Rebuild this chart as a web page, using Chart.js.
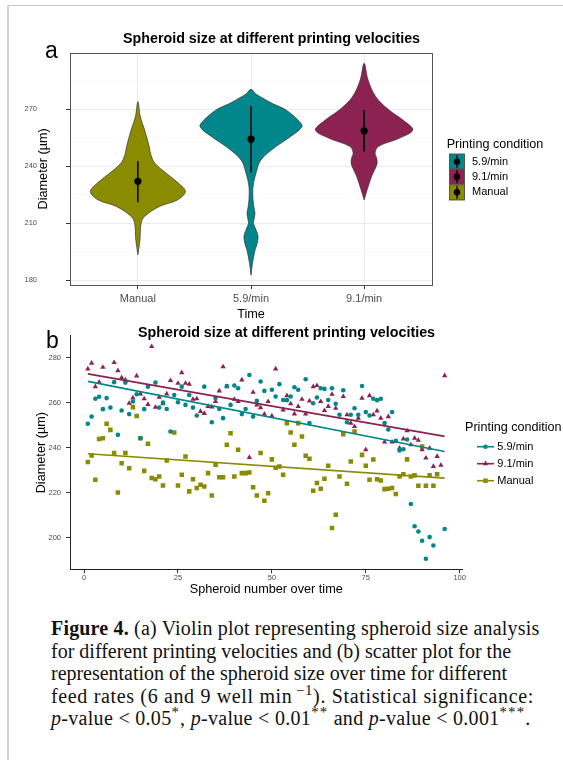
<!DOCTYPE html>
<html>
<head>
<meta charset="utf-8">
<script src="https://cdn.jsdelivr.net/npm/chart.js@4.4.1/dist/chart.umd.min.js"></script>
<style>
  html, body { margin: 0; padding: 0; background: #fff; }
  #page { position: relative; width: 563px; height: 760px; overflow: hidden; background: #fff; }
  .rule-top { position: absolute; left: 7px; top: 5px; width: 556px; height: 1px; background: #c8c8c8; }
  .rule-left { position: absolute; left: 7px; top: 5px; width: 2px; height: 755px; background: #d2d2d2; }
  canvas { position: absolute; }
  .tag { position: absolute; font-family: "Liberation Sans", Arial, sans-serif; font-size: 23px; line-height: 23px; color: #000; }
  #caption { position: absolute; left: 51px; top: 617px; font-family: "Liberation Serif", "Times New Roman", serif;
    font-size: 20px; line-height: 22.5px; color: #111; white-space: nowrap; }
  #caption .ln { display: block; }
  #caption sup { font-size: 0.74em; line-height: 0; vertical-align: 0.55em; }
  #caption sup.st { letter-spacing: 1.2px; }
</style>
</head>
<body>
<div id="page">
  <div class="rule-top"></div>
  <div class="rule-left"></div>
  <canvas id="violin" width="550" height="316" style="left:0;top:8px"></canvas>
  <canvas id="scatter" width="553" height="290" style="left:10px;top:318px"></canvas>
  <div class="tag" style="left:45px;top:39px">a</div>
  <div class="tag" style="left:46px;top:329px">b</div>
  <div id="caption">
    <span class="ln" style="letter-spacing:0.18px"><b>Figure 4.</b> (a) Violin plot representing spheroid size analysis</span>
    <span class="ln" style="letter-spacing:0px">for different printing velocities and (b) scatter plot for the</span>
    <span class="ln" style="letter-spacing:-0.02px">representation of the spheroid size over time for different</span>
    <span class="ln" style="letter-spacing:0.65px">feed rates (6 and 9 well min<sup>&#8201;&minus;1</sup>). Statistical significance:</span>
    <span class="ln" style="letter-spacing:0.3px"><i>p</i>-value &lt; 0.05<sup class="st">*</sup>, <i>p</i>-value &lt; 0.01<sup class="st">**</sup> and <i>p</i>-value &lt; 0.001<sup class="st">***</sup>.</span>
  </div>
</div>

<script>
Chart.defaults.font.family = '"Liberation Sans", Arial, Helvetica, sans-serif'
Chart.defaults.color = '#4d4d4d'

const groups = ['Manual', '5.9/min', '9.1/min']
const legendOrder = ['5.9/min', '9.1/min', 'Manual']
const colors = { 'Manual': '#8b8b00', '5.9/min': '#00868b', '9.1/min': '#8b2252' }

// panel a: violin outlines, diameter levels and half widths (category units)
const manualLevels = [193.3, 201, 210, 213.5, 218.8, 222.2, 226.6, 231, 236.3, 241.6, 246, 250.3, 259, 266, 274]
const manualWidths = [0, 0.018, 0.029, 0.059, 0.19, 0.35, 0.42, 0.36, 0.25, 0.15, 0.115, 0.10, 0.06, 0.022, 0]
const v59Levels = [182.6, 188.8, 195.6, 199, 203, 206.5, 209.9, 212, 215.2, 218, 222.2, 229.3, 236.3, 243.3, 250.3, 255.6, 260.8, 264, 269.6, 273, 275.8, 278, 280.5]
const v59Widths = [0, 0.013, 0.035, 0.053, 0.062, 0.044, 0.022, 0.027, 0.035, 0.027, 0.018, 0.018, 0.044, 0.088, 0.22, 0.35, 0.45, 0.42, 0.31, 0.19, 0.106, 0.044, 0]
const v91Levels = [222.2, 227.6, 234.6, 239, 241.6, 244.5, 246.8, 250.3, 254.7, 259, 264, 269.6, 276.6, 285.4, 294.2]
const v91Widths = [0, 0.027, 0.066, 0.10, 0.115, 0.11, 0.097, 0.124, 0.31, 0.43, 0.35, 0.22, 0.103, 0.035, 0]
const groupMeans = [232.0, 254.2, 258.6]
const groupLow = [221.0, 236.7, 247.7]
const groupHigh = [242.6, 271.7, 269.6]
const violinTicks = [180, 195, 210, 225, 240, 255, 270, 285]

// panel b: spheroid number vs diameter
const x59 = [1,2,3,4,5,6,7,8,9,10,11,12,13,14,15,16,17,19,20,21,22,23,24,25,26,27,28,29,30,32,34,35,36,37,38,39,40,41,42,43,44,45,46,47,48,50,51,52,53,54,55,56,57,59,60,61,62,63,64,65,66,67,68,69,70,71,72,73,74,75,76,77,78,79,80,81,82,83,84,85,86,87,88,89,90,91,92,93,96]
const y59 = [250.6,253.8,261.7,262.6,257.1,262.0,257.8,269.1,245.7,256.5,268.9,254.9,260.5,263.7,244.2,257.1,267.1,268.9,257.8,260.0,257.2,247.2,263.4,260.2,267.1,259.0,263.4,257.8,254.3,267.1,251.3,262.0,257.2,253.1,267.4,259.0,267.6,266.4,254.9,257.2,272.3,253.8,260.8,269.4,265.2,265.7,262.7,268.2,261.2,261.1,262.7,266.8,265.7,270.4,250.9,259.7,262.3,266.4,266.1,261.2,266.4,259.5,254.6,265.5,251.3,254.6,257.5,254.6,267.4,255.8,254.3,261.7,261.1,261.7,250.9,248.1,255.8,243.0,238.8,239.3,243.6,215.0,205.1,202.8,198.7,190.7,200.3,196.6,203.9]
const x91 = [1,2,3,4,5,8,9,10,11,12,13,14,15,16,17,18,19,20,21,22,23,25,26,27,28,29,30,31,32,33,34,35,36,37,38,40,41,42,44,45,46,47,48,49,50,51,53,54,55,56,57,58,59,60,61,62,63,64,65,66,67,69,70,71,72,73,74,75,76,77,78,79,80,81,82,84,85,86,87,88,89,90,91,92,93,94,95,96]
const y91 = [275.0,277.5,267.1,269.1,275.7,277.8,274.2,271.1,270.1,259.7,262.1,271.9,263.9,261.7,259.2,284.9,258.0,262.4,259.5,263.9,269.8,268.6,273.3,268.6,268.2,261.5,261.7,256.1,255.2,258.3,258.1,260.5,265.2,275.9,267.1,261.5,260.5,270.1,235.7,264.6,259.0,257.8,254.9,260.5,254.1,275.0,256.8,263.1,259.5,255.0,258.3,261.5,255.0,260.8,267.1,267.6,260.5,256.5,258.3,263.7,257.5,262.7,254.6,250.9,249.4,253.1,262.0,239.1,263.1,254.6,256.3,253.1,242.5,253.8,242.5,239.8,243.9,247.5,241.3,244.2,243.3,239.1,235.4,239.8,231.7,236.1,232.2,272.0]
const xManual = [1,2,3,4,5,6,7,8,9,10,11,12,13,14,15,16,17,18,19,20,21,22,24,25,26,27,28,29,30,31,32,33,34,35,36,37,38,39,40,41,42,43,44,45,46,47,48,49,50,51,52,53,54,55,56,57,58,59,60,61,62,63,64,65,66,67,68,69,70,71,72,74,75,76,77,78,79,80,81,82,83,84,85,86,87,88,89,90,91,92,93,94]
const yManual = [233.6,236.5,225.8,243.9,244.2,250.6,247.9,237.6,220.1,233.1,237.6,230.9,258.0,254.1,244.2,229.7,241.7,226.5,226.0,227.2,223.2,234.3,246.7,223.2,228.0,236.1,220.6,226.0,222.1,223.5,222.8,228.7,218.8,232.4,226.9,226.9,241.3,246.4,227.2,239.1,228.7,228.7,229.0,222.4,218.8,237.6,216.4,219.8,234.8,231.1,231.6,228.0,250.9,246.7,241.3,250.9,245.0,236.4,235.1,220.9,224.3,221.8,226.2,232.0,204.3,210.2,227.2,246.0,224.0,233.9,247.2,236.8,232.0,225.8,234.7,226.0,225.4,221.6,221.8,222.1,219.4,227.2,228.2,234.8,227.2,227.7,223.1,240.5,223.1,227.7,223.1,228.2]
// fitted lines (read at spheroid 1 and 96)
const trendX = [1, 96]
const trend59 = [269.4, 238.3]
const trend91 = [272.8, 245.0]
const trendManual = [237.3, 226.5]
const scatterXTicks = [0, 25, 50, 75, 100]
const scatterYTicks = [200, 220, 240, 260, 280]

const levels = [manualLevels, v59Levels, v91Levels]
const widths = [manualWidths, v59Widths, v91Widths]
const markers = { '5.9/min': ['circle', 2.3], '9.1/min': ['triangle', 3.1], 'Manual': ['rect', 3.2] }
const isMajor = v => v % 30 === 0

function outline(center, lv, wd) {
  const left = lv.map((v, i) => ({ x: center - wd[i], y: v }))
  const right = lv.map((v, i) => ({ x: center + wd[i], y: v })).reverse().slice(1)
  return left.concat(right)
}
function pairs(xs, ys) {
  return xs.map((x, i) => ({ x: x, y: ys[i] }))
}

// ggplot-like legend drawn next to the panel
const keyLegend = {
  id: 'keyLegend',
  afterDraw(chart, args, o) {
    const ctx = chart.ctx
    const r = chart.chartArea.right
    ctx.save()
    ctx.textAlign = 'left'
    ctx.textBaseline = 'middle'
    ctx.fillStyle = '#000'
    ctx.font = '12.6px "Liberation Sans", Arial, sans-serif'
    ctx.fillText(o.title, r + o.titleDx, o.titleY)
    ctx.font = '11px "Liberation Sans", Arial, sans-serif'
    legendOrder.forEach((name, i) => {
      const y = o.itemY[i]
      const kx = r + o.keyDx
      if (o.kind === 'violin') {
        ctx.fillStyle = colors[name]
        ctx.fillRect(kx - 8, y - 8, 16, 16)
        ctx.strokeStyle = '#555'
        ctx.lineWidth = 1
        ctx.strokeRect(kx - 7.5, y - 7.5, 15, 15)
        ctx.strokeStyle = '#000'
        ctx.lineWidth = 1.4
        ctx.beginPath(); ctx.moveTo(kx, y - 6.5); ctx.lineTo(kx, y + 6.5); ctx.stroke()
        ctx.fillStyle = '#000'
        ctx.beginPath(); ctx.arc(kx, y, 3.2, 0, Math.PI * 2); ctx.fill()
      } else {
        ctx.strokeStyle = colors[name]
        ctx.lineWidth = 1.6
        ctx.beginPath(); ctx.moveTo(kx - 8.5, y); ctx.lineTo(kx + 8.5, y); ctx.stroke()
        ctx.fillStyle = colors[name]
        Chart.helpers.drawPoint(ctx, { pointStyle: markers[name][0], radius: markers[name][1], rotation: 0, borderWidth: 0 }, kx, y)
      }
      ctx.fillStyle = '#000'
      ctx.fillText(name, r + o.textDx, y)
    })
    ctx.restore()
  }
}

const panelBorder = {
  id: 'panelBorder',
  afterDatasetsDraw(chart) {
    const a = chart.chartArea
    const ctx = chart.ctx
    ctx.save()
    ctx.strokeStyle = '#555'
    ctx.lineWidth = 1
    ctx.strokeRect(Math.round(a.left) + 0.5, Math.round(a.top) + 0.5, Math.round(a.right - a.left), Math.round(a.bottom - a.top))
    ctx.restore()
  }
}

// ---------- panel a ----------
const violinSets = []
groups.forEach((g, i) => {
  violinSets.push({
    label: g + ' mean',
    data: [{ x: i + 1, y: groupMeans[i] }],
    pointRadius: 3.6, pointBackgroundColor: '#000', pointBorderWidth: 0,
    showLine: false, order: 1, yAxisID: 'y'
  })
  violinSets.push({
    label: g + ' spread',
    data: [{ x: i + 1, y: groupLow[i] }, { x: i + 1, y: groupHigh[i] }],
    showLine: true, borderColor: '#000', borderWidth: 1.5, pointRadius: 0, order: 2, yAxisID: 'y'
  })
  violinSets.push({
    label: g,
    data: outline(i + 1, levels[i], widths[i]),
    showLine: true, fill: 'shape', tension: 0.35,
    backgroundColor: colors[g], borderColor: '#333', borderWidth: 0.7,
    pointRadius: 0, order: 3, yAxisID: 'y'
  })
})

new Chart(document.getElementById('violin'), {
  type: 'scatter',
  data: { datasets: violinSets },
  options: {
    responsive: false,
    animation: false,
    layout: { padding: { left: 0, right: 7, top: 0, bottom: 0 } },
    plugins: {
      title: {
        display: true,
        text: 'Spheroid size at different printing velocities',
        color: '#000',
        font: { size: 14.3, weight: 'bold' },
        padding: { top: 22.4, bottom: 5.1 }
      },
      legend: { display: false },
      tooltip: { enabled: false },
      keyLegend: { kind: 'violin', title: 'Printing condition', titleDx: 14.7, titleY: 137, itemY: [153.7, 168.7, 184.3], keyDx: 25, textDx: 40 }
    },
    scales: {
      x: {
        type: 'linear', min: 0.4, max: 3.6,
        afterBuildTicks: s => { s.ticks = [1, 2, 3].map(v => ({ value: v })) },
        afterFit: s => { s.height = 39 },
        grid: { color: '#ebebeb', lineWidth: 1, drawTicks: true, tickLength: 4, tickColor: '#333' },
        border: { display: false },
        ticks: { callback: v => groups[v - 1], color: '#4d4d4d', font: { size: 11 }, padding: 3.4, maxRotation: 0, autoSkip: false },
        title: { display: true, text: 'Time', color: '#000', font: { size: 12.7 }, padding: { top: 0, bottom: 1.4 } }
      },
      y: {
        type: 'linear', min: 177.4, max: 299.8,
        afterBuildTicks: s => { s.ticks = violinTicks.map(v => ({ value: v })) },
        afterFit: s => { s.width = 70 },
        grid: {
          color: c => isMajor(c.tick.value) ? '#ebebeb' : '#f5f5f5',
          lineWidth: c => isMajor(c.tick.value) ? 1 : 0.6,
          tickLength: 4,
          tickColor: c => isMajor(c.tick.value) ? '#333' : 'rgba(0,0,0,0)'
        },
        border: { display: false },
        ticks: { callback: v => isMajor(v) ? v : '', color: '#4d4d4d', font: { size: 7.5 }, padding: 29, autoSkip: false },
        title: { display: true, text: 'Diameter (µm)', color: '#000', font: { size: 12.7 }, padding: { top: 35.9, bottom: 0 } }
      },
      gap: {
        type: 'linear', position: 'right',
        grid: { display: false }, ticks: { display: false }, border: { display: false },
        afterFit: s => { s.width = 111 }
      }
    }
  },
  plugins: [panelBorder, keyLegend]
})

// ---------- panel b ----------
const series = [
  { name: '5.9/min', xs: x59, ys: y59, trend: trend59 },
  { name: '9.1/min', xs: x91, ys: y91, trend: trend91 },
  { name: 'Manual', xs: xManual, ys: yManual, trend: trendManual }
]
const scatterSets = []
series.forEach(s => {
  scatterSets.push({
    label: s.name,
    data: pairs(s.xs, s.ys),
    pointStyle: markers[s.name][0], pointRadius: markers[s.name][1],
    pointBackgroundColor: colors[s.name], pointBorderWidth: 0,
    showLine: false, order: 2, yAxisID: 'y'
  })
  scatterSets.push({
    label: s.name + ' fit',
    data: pairs(trendX, s.trend),
    showLine: true, borderColor: colors[s.name], borderWidth: 1.7,
    pointRadius: 0, order: 1, yAxisID: 'y'
  })
})

new Chart(document.getElementById('scatter'), {
  type: 'scatter',
  data: { datasets: scatterSets },
  options: {
    responsive: false,
    animation: false,
    layout: { padding: { left: 0, right: 0, top: 0, bottom: 0 } },
    plugins: {
      title: {
        display: true,
        text: 'Spheroid size at different printing velocities',
        color: '#000',
        font: { size: 14.3, weight: 'bold' },
        padding: { top: 6.1, bottom: -5.3 }
      },
      legend: { display: false },
      tooltip: { enabled: false },
      keyLegend: { kind: 'scatter', title: 'Printing condition', titleDx: 2.5, titleY: 109.3, itemY: [128.7, 145.7, 162.7], keyDx: 23, textDx: 34.8 }
    },
    scales: {
      x: {
        type: 'linear', min: -3.75, max: 100.75,
        afterBuildTicks: s => { s.ticks = scatterXTicks.map(v => ({ value: v })) },
        afterFit: s => { s.height = 38.7 },
        grid: { drawOnChartArea: false, drawTicks: true, tickLength: 4, tickColor: '#333' },
        border: { display: true, color: '#222', width: 1 },
        ticks: { color: '#4d4d4d', font: { size: 7.5 }, padding: 0, maxRotation: 0, autoSkip: false },
        title: { display: true, text: 'Spheroid number over time', color: '#000', font: { size: 12.7 }, padding: { top: 0, bottom: 10.4 } }
      },
      y: {
        type: 'linear', min: 186, max: 289.6,
        afterBuildTicks: s => { s.ticks = scatterYTicks.map(v => ({ value: v })) },
        afterFit: s => { s.width = 60 },
        grid: { drawOnChartArea: false, drawTicks: true, tickLength: 4, tickColor: '#333' },
        border: { display: true, color: '#222', width: 1 },
        ticks: { color: '#4d4d4d', font: { size: 7.5 }, padding: 5, autoSkip: false },
        title: { display: true, text: 'Diameter (µm)', color: '#000', font: { size: 12.7 }, padding: { top: 23.4, bottom: 0 } }
      },
      gap: {
        type: 'linear', position: 'right',
        grid: { display: false }, ticks: { display: false }, border: { display: false },
        afterFit: s => { s.width = 100.5 }
      }
    }
  },
  plugins: [keyLegend]
})
</script>
</body>
</html>
